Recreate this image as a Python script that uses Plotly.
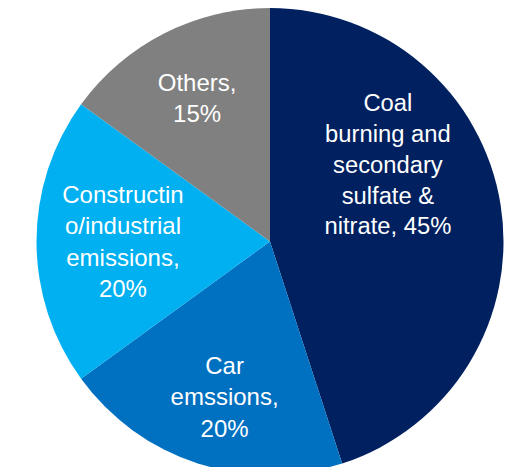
import plotly.graph_objects as go

categories = ["Coal burning and secondary sulfate & nitrate", "Car emssions",
              "Constructino/industrial emissions", "Others"]
slice_labels = ["Coal<br>burning and<br>secondary<br>sulfate &<br>nitrate, 45%<br> <br> <br> <br> <br> ",
                " <br>Car<br>emssions,<br>20%",
                "Constructin<br>o/industrial<br>emissions,<br>20%",
                "Others,<br>15%"]
values = [45, 20, 20, 15]
colors = ["#002060", "#0070C0", "#00B0F0", "#808080"]

fig = go.Figure(go.Pie(
    labels=categories,
    values=values,
    text=slice_labels,
    texttemplate="%{text}",
    textposition="inside",
    insidetextorientation="horizontal",
    sort=False,
    direction="clockwise",
    rotation=0,
    marker=dict(colors=colors, line=dict(width=0)),
    textfont=dict(family="Liberation Sans, Arial", size=24, color="white"),
    showlegend=False,
    hoverinfo="none",
    domain=dict(x=[(262 - 234) / 525, (262 + 234) / 525], y=[0, 1]),
))
fig.update_layout(
    width=525, height=467,
    margin=dict(l=0, r=0, t=0, b=0),
    paper_bgcolor="white",
    plot_bgcolor="white",
)
fig.write_html("out.html")
